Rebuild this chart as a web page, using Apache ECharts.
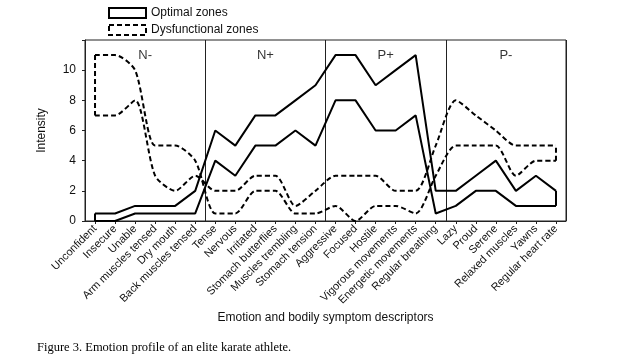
<!DOCTYPE html>
<html>
<head>
<meta charset="utf-8">
<script src="https://cdn.jsdelivr.net/npm/echarts@6/dist/echarts.min.js"></script>
<style>
html,body{margin:0;padding:0;background:#fff;}
#c{width:643px;height:362px;}
</style>
</head>
<body>
<div id="c"></div>
<script>
var categories = ['Unconfident','Insecure','Unable','Arm muscles tensed','Dry mouth','Back muscles tensed',
  'Tense','Nervous','Irritated','Stomach butterflies','Muscles trembling','Stomach tension',
  'Aggressive','Focused','Hostile','Vigorous movements','Energetic movements','Regular breathing',
  'Lazy','Proud','Serene','Relaxed muscles','Yawns','Regular heart rate'];
var optimalUpper = [0.5,0.5,1,1,1,2, 6,5,7,7,8,9, 11,11,9,10,11,2, 2,3,4,2,3,2];
var optimalLower = [0,0,0.5,0.5,0.5,0.5, 4,3,5,5,6,5, 8,8,6,6,7,0.5, 1,2,2,1,1,1];
var dysfA = [11,11,10,5,5,4, 0.5,0.5,2,2,0.5,0.5, 1,0,1,1,0.5,3, 5,5,5,3,4,4];
var dysfB = [7,7,8,3,2,3, 2,2,3,3,1,2, 3,3,3,2,2,5, 8,7,6,5,5,5];
var zoneLabels = ['N-','N+','P+','P-'];
var yTicks = [0,2,4,6,8,10];
var OPT = 'Optimal zones', DYS = 'Dysfunctional zones';

var chart = echarts.init(document.getElementById('c'), null, {renderer:'canvas'});
var font = 'Liberation Sans, Arial, sans-serif';
var n = categories.length;
var last = n - 1;
var solid = {color:'#000', width:2, type:'solid'};
var dashed = {color:'#000', width:2, type:[5,3]};

function lineSeries(name, data, style, smooth){
  return {name:name, type:'line', xAxisIndex:0, yAxisIndex:0, data:data, symbol:'none',
    smooth:smooth, lineStyle:style, itemStyle:{color:'#000'}, z:3, silent:true, animation:false};
}

var option = {
  animation:false,
  backgroundColor:'#fff',
  textStyle:{fontFamily:font},
  legend:{
    left:103, top:3, orient:'vertical', itemGap:3, itemWidth:37, itemHeight:10,
    icon:'rect', padding:[3,5],
    textStyle:{fontFamily:font, fontSize:12, color:'#111', lineHeight:14},
    data:[
      {name:OPT, itemStyle:{color:'#fff', borderColor:'#000', borderWidth:2, borderType:'solid'}},
      {name:DYS, itemStyle:{color:'#fff', borderColor:'#000', borderWidth:2, borderType:[5,3]}}
    ]
  },
  grid:{left:85, right:77, top:40, bottom:141, show:true, borderColor:'#222', borderWidth:1, backgroundColor:'transparent'},
  xAxis:[{
    type:'category', data:categories, boundaryGap:true,
    name:'Emotion and bodily symptom descriptors', nameLocation:'middle', nameGap:91,
    nameTextStyle:{fontFamily:font, fontSize:12, color:'#111'},
    axisLine:{lineStyle:{color:'#222', width:1}},
    axisTick:{show:true, interval:0, alignWithLabel:true, length:3, lineStyle:{color:'#222'}},
    axisLabel:{interval:0, rotate:45, fontSize:11, fontFamily:font, color:'#111', margin:6},
    splitLine:{show:true, interval:function(i){return i===6||i===12||i===18;}, lineStyle:{color:'#222', width:1}}
  },{
    type:'value', min:0, max:n, show:false
  }],
  yAxis:{
    type:'value', min:0, max:12, interval:2,
    name:'Intensity', nameLocation:'middle', nameGap:37,
    nameTextStyle:{fontFamily:font, fontSize:12, color:'#111'},
    axisLine:{show:true, lineStyle:{color:'#222', width:1}},
    axisTick:{show:true, length:3, lineStyle:{color:'#222'}},
    axisLabel:{fontSize:12, fontFamily:font, color:'#111', margin:9,
      formatter:function(v){return yTicks.indexOf(v)>=0 ? String(v) : '';}},
    splitLine:{show:false}
  },
  series:[
    lineSeries(OPT, optimalUpper, solid, false),
    lineSeries(OPT, optimalLower, solid, false),
    lineSeries(OPT, [[0, optimalUpper[0]],[0, optimalLower[0]]], solid, false),
    lineSeries(OPT, [[last, optimalUpper[last]],[last, optimalLower[last]]], solid, false),
    lineSeries(DYS, dysfA, dashed, 0.25),
    lineSeries(DYS, dysfB, dashed, 0.25),
    lineSeries(DYS, [[0, dysfA[0]],[0, dysfB[0]]], dashed, false),
    lineSeries(DYS, [[last, dysfA[last]],[last, dysfB[last]]], dashed, false),
    {type:'scatter', xAxisIndex:1, yAxisIndex:0, symbolSize:0, silent:true,
      data:zoneLabels.map(function(l,i){return {value:[i*6+3, 11], name:l};}),
      label:{show:true, position:'inside', formatter:function(p){return p.name;}, fontFamily:font, fontSize:13, color:'#000'}}
  ],
  graphic:[{
    type:'text', left:37, top:341,
    style:{text:'Figure 3. Emotion profile of an elite karate athlete.', font:'12.5px "Liberation Serif", "Times New Roman", serif', fill:'#000'}
  }]
};
chart.setOption(option);
</script>
</body>
</html>
